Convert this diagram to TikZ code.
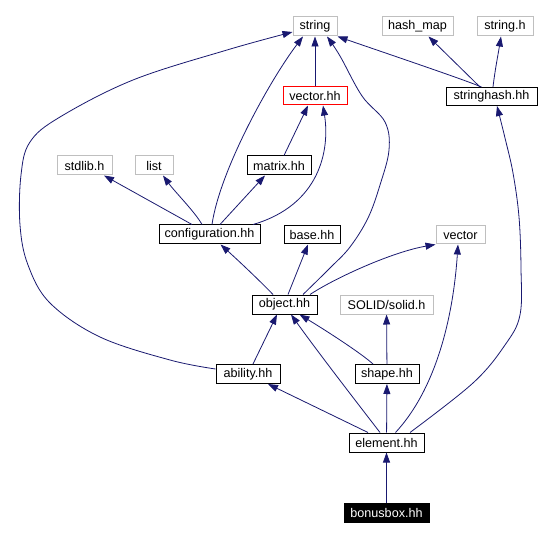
\documentclass[tikz,border=0pt]{standalone}
\usepackage{fontspec}
\setmainfont{Liberation Sans}
\usetikzlibrary{arrows.meta,calc}
\definecolor{edgecol}{HTML}{191970}
\definecolor{extgray}{HTML}{BFBFBF}
\begin{document}
\begin{tikzpicture}[x=1pt,y=-1pt,
  box/.style={draw=black, line width=1pt, fill=white, inner sep=0pt, minimum height=19pt, font=\fontsize{12.6}{14}\selectfont},
  ext/.style={box, draw=extgray},
  edge/.style={draw=edgecol, line width=0.8pt, -{Triangle[length=10pt,width=7pt]}}]
\fill[white] (0,0) rectangle (541,540);
\useasboundingbox (0,0) rectangle (541,540);
% nodes
\node[ext, minimum width=44pt] (string) at (315,26.5) {string};
\node[ext, minimum width=71pt] (hashmap) at (417.5,26.5) {hash\_map};
\node[ext, minimum width=56pt] (stringh) at (505,26.5) {string.h};
\node[box, draw=red, minimum width=64pt, minimum height=18pt] (vh) at (315,96) {vector.hh};
\node[box, minimum width=91pt, minimum height=18pt] (sh) at (491.5,96.5) {stringhash.hh};
\node[ext, minimum width=55pt] (stdlib) at (84.5,165.5) {stdlib.h};
\node[ext, minimum width=38pt] (list) at (154,165.5) {list};
\node[box, minimum width=64pt] (matrix) at (279,165.5) {matrix.hh};
\node[box, minimum width=101pt] (conf) at (209.5,234.5) {configuration.hh};
\node[box, minimum width=56pt, minimum height=18pt] (base) at (312,235) {base.hh};
\node[ext, minimum width=49pt, minimum height=18pt] (vector) at (460.5,235) {vector};
\node[box, minimum width=65pt] (obj) at (284.5,304.5) {object.hh};
\node[ext, minimum width=93pt] (solid) at (386.5,304.5) {SOLID/solid.h};
\node[box, minimum width=64pt] (ability) at (248,374) {ability.hh};
\node[box, minimum width=64pt] (shape) at (387,374) {shape.hh};
\node[box, minimum width=75pt] (element) at (386.5,442.5) {element.hh};
\node[box, fill=black, text=white, minimum width=85pt] (bonus) at (386.5,512.5) {bonusbox.hh};
% helper coordinates
\coordinate (e14s) at ($(obj.north)+(18.5,0)$);
\coordinate (e14e) at ($(string.south)+(12,0)$);
\coordinate (e16s) at ($(ability.west)+(0,-5)$);
\coordinate (e16e) at ($(string.west)+(0,5.5)$);
\coordinate (e23s) at ($(element.north)+(23.5,0)$);
\coordinate (e23e) at ($(sh.south)+(5.5,0)$);
% edges
\draw[edge] (vh) -- (string);
\draw[edge] ($(conf.north)+(2.5,0)$) .. controls (220,170) and (270,80) .. ($(string.south)+(-12,0)$);
\draw[edge] ($(conf.north)+(-17.5,0)$) -- ($(stdlib.south)+(19.5,0)$);
\draw[edge] ($(conf.north)+(-7.5,0)$) .. controls (195,212) and (175,192) .. ($(list.south)+(9,0)$);
\draw[edge] ($(conf.north)+(10.5,0)$) -- ($(matrix.south)+(-14,0)$);
\draw[edge] ($(conf.north)+(43.5,0)$) .. controls (320,205) and (330,150) .. ($(vh.south)+(8,0)$);
\draw[edge] ($(matrix.north)+(5,0)$) -- ($(vh.south)+(-7,0)$);
\draw[edge] ($(sh.north)+(-10,0)$) .. controls (465,80) and (400,58) .. (string.south east);
\draw[edge] ($(sh.north)+(-11.5,0)$) -- ($(hashmap.south)+(11,0)$);
\draw[edge] ($(sh.north)+(1.5,0)$) .. controls (495,70) and (498,55) .. ($(stringh.south)+(-4,0)$);
\draw[edge] ($(obj.north)+(-11.5,0)$) .. controls (262,283) and (240,262) .. ($(conf.south)+(11,0)$);
\draw[edge] ($(obj.north)+(3.5,0)$) -- ($(base.south)+(-4,0)$);
\draw[edge] ($(obj.north)+(25.5,0)$) .. controls (335,278) and (392,252) .. (vector.south west);
\draw[edge] plot[smooth, tension=0.6] coordinates {(e14s) (330,268) (350,247) (368,218) (380,185) (389,150) (385,122) (362,96) (340,56) (e14e)};
\draw[edge] ($(ability.north)+(5,0)$) -- ($(obj.south)+(-7.5,0)$);
\draw[edge] plot[smooth, tension=0.6] coordinates {(e16s) (170,360) (100,337) (50,303) (28,265) (20,225) (21,175) (30,142) (60,117) (133,80) (227,50) (e16e)};
\draw[edge] ($(shape.north)+(-14,0)$) .. controls (362,354) and (330,333) .. ($(obj.south)+(15,0)$);
\draw[edge] (shape) -- (solid);
\draw[edge] ($(element.north)+(-18.5,0)$) -- ($(ability.south)+(20,0)$);
\draw[edge] ($(element.north)+(-6.5,0)$) .. controls (365,413) and (320,355) .. ($(obj.south)+(6.5,0)$);
\draw[edge] (element) -- (shape);
\draw[edge] ($(element.north)+(9,0)$) .. controls (435,390) and (453,320) .. ($(vector.south)+(-2.5,0)$);
\draw[edge] plot[smooth, tension=0.6] coordinates {(e23s) (473,383) (505,345) (520,315) (521,268) (519,217) (513,173) (505,138) (e23e)};
\draw[edge] (bonus) -- (element);
\end{tikzpicture}
\end{document}
